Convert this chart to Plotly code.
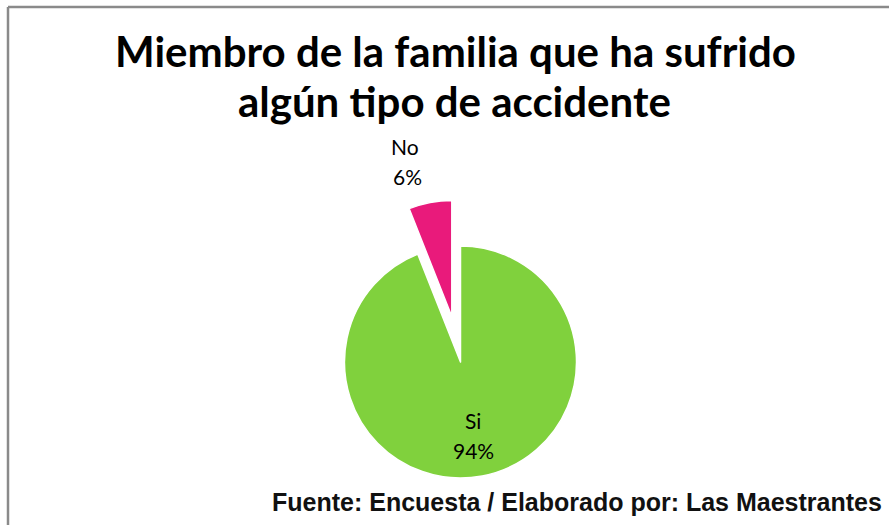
import plotly.graph_objects as go

# Data
categories = ["Si", "No"]
values = [94, 6]
colors = ["#80D13D", "#E91A7B"]
pulls = [0, 0.4]
title_lines = ["Miembro de la familia que ha sufrido", "algún tipo de accidente"]
source_text = "Fuente: Encuesta / Elaborado por: Las Maestrantes"

W, H = 889, 525
total = sum(values)
percents = ["%d%%" % round(100 * v / total) for v in values]

fig = go.Figure()
fig.add_trace(go.Pie(
    labels=categories,
    values=values,
    sort=False,
    direction="clockwise",
    rotation=0,
    pull=pulls,
    marker=dict(colors=colors, line=dict(color="#ffffff", width=1.5)),
    textinfo="none",
    showlegend=False,
    automargin=False,
    hoverinfo="label+percent",
    domain=dict(x=[0.3324, 0.7036], y=[0.0011, 0.6198]),
))

label_font = dict(family="Lato", size=21, color="#000000")
# (x, y) pixel centers of data labels: category line and percent line
label_pos = {"Si": ((473, 420), (473, 450)), "No": ((405, 146), (407, 176))}

annotations = [
    dict(text=source_text, xref="paper", yref="paper", x=884/W, y=1-502/H,
         xanchor="right", yanchor="middle", showarrow=False,
         font=dict(family="Liberation Sans", size=25, color="#111111", weight="bold")),
    dict(text=title_lines[0], xref="paper", yref="paper", x=455/W, y=1-51/H,
         xanchor="center", yanchor="middle", showarrow=False,
         font=dict(family="Lato", size=42, color="#000000", weight="bold")),
    dict(text=title_lines[1], xref="paper", yref="paper", x=454/W, y=1-101/H,
         xanchor="center", yanchor="middle", showarrow=False,
         font=dict(family="Lato", size=42, color="#000000", weight="bold")),
]
for cat, pct in zip(categories, percents):
    (x1, y1), (x2, y2) = label_pos[cat]
    annotations.append(dict(text=cat, xref="paper", yref="paper", x=x1/W, y=1-y1/H,
                            xanchor="center", yanchor="middle", showarrow=False, font=label_font))
    annotations.append(dict(text=pct, xref="paper", yref="paper", x=x2/W, y=1-y2/H,
                            xanchor="center", yanchor="middle", showarrow=False, font=label_font))

fig.update_layout(
    width=W, height=H,
    autosize=False,
    showlegend=False,
    margin=dict(l=0, r=0, t=0, b=0, pad=0, autoexpand=False),
    paper_bgcolor="#ffffff",
    plot_bgcolor="#ffffff",
    shapes=[
        dict(type="line", xref="paper", yref="paper", x0=8/W, x1=1, y0=1-7/H, y1=1-7/H,
             line=dict(color="#8a8a8a", width=2.5)),
        dict(type="line", xref="paper", yref="paper", x0=8/W, x1=8/W, y0=1-7/H, y1=0,
             line=dict(color="#8a8a8a", width=2.5)),
    ],
    annotations=annotations,
)

fig.write_html("out.html", post_script="document.body.style.margin='0';",
               config={"displayModeBar": False})
